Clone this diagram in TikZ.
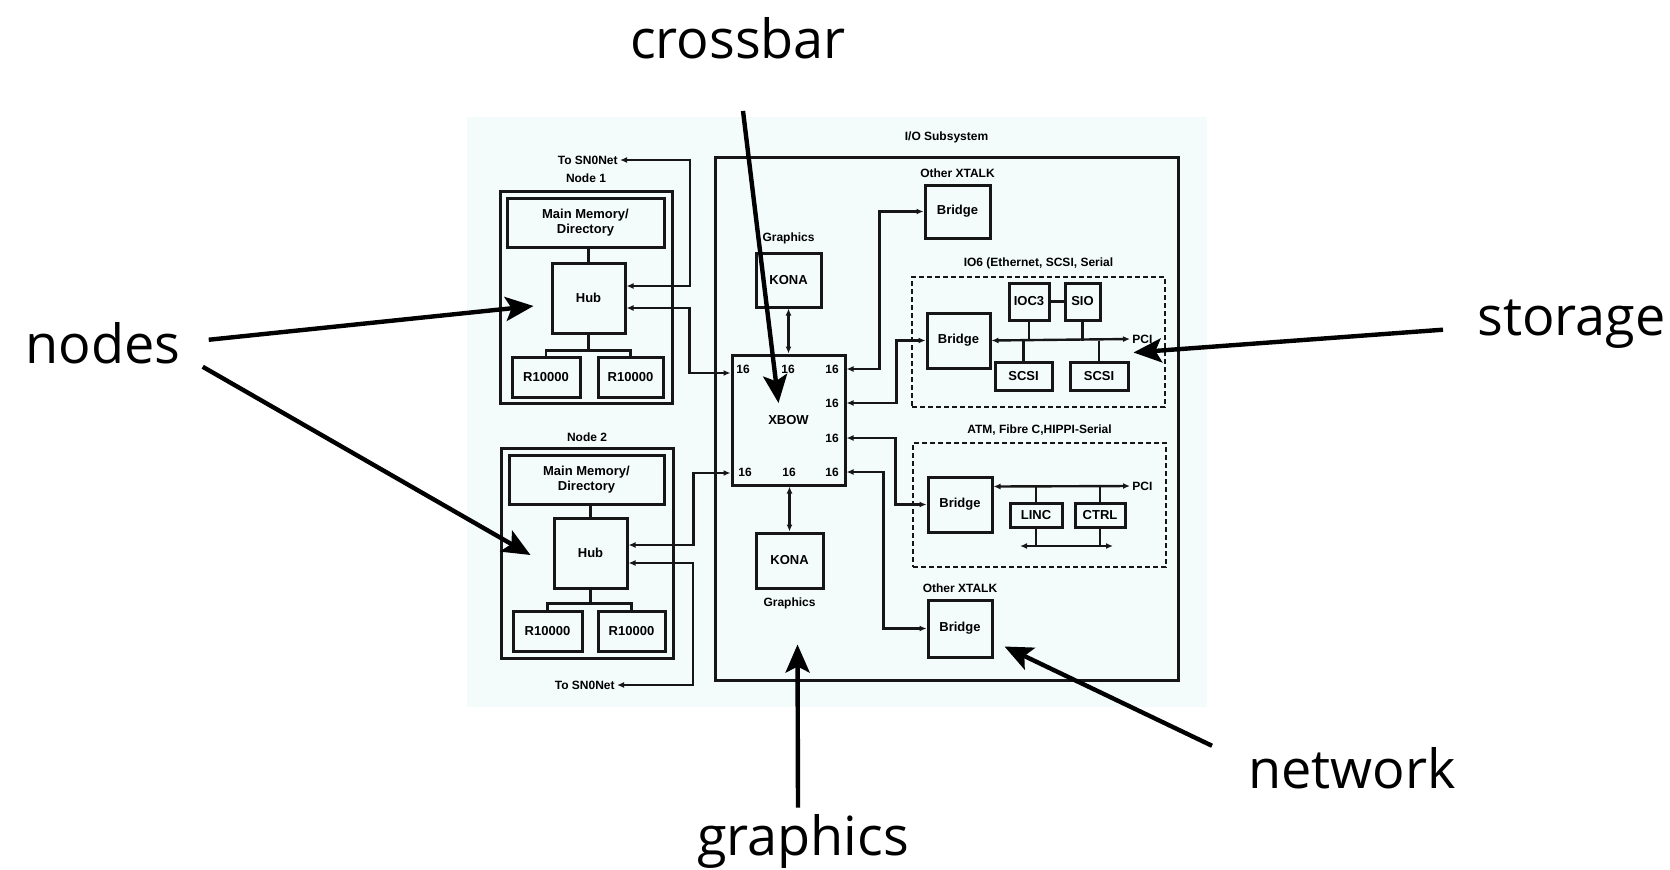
\documentclass[tikz,border=0pt]{standalone}
\usepackage{fontspec}
\setmainfont{Liberation Sans}
\newfontfamily\calloutfont{Open Sans}
\usetikzlibrary{arrows.meta,positioning}
\definecolor{scanbg}{HTML}{F3FCFB}
\definecolor{ink}{HTML}{161616}

\tikzset{
  unit/.style={draw=ink,line width=1.5pt,inner sep=0pt,align=center,
    font=\fontsize{6.5}{7.5}\selectfont\bfseries},
  frame/.style={draw=ink,line width=1.5pt,inner sep=0pt},
  subsys/.style={draw=ink,line width=1.1pt,dash pattern=on 2.5pt off 1.5pt,inner sep=0pt},
  tag/.style={inner sep=1pt,font=\fontsize{6}{7}\selectfont\bfseries},
  wire/.style={ink,line width=1.2pt,>={Latex[length=3.5pt,width=3pt]}},
  callout/.style={line width=2.2pt,-{Stealth[length=14pt,width=12pt,inset=3pt]}},
  calltext/.style={inner sep=0pt,font=\calloutfont\fontsize{27}{30}\selectfont}
}

\begin{document}
\begin{tikzpicture}[x=0.5pt,y=-0.5pt]
\useasboundingbox (0,0) rectangle (1670,869);
\fill[scanbg] (467,117) rectangle (1207,707);

% node 1
\node (node1) at (586,297) [frame,minimum width=86pt,minimum height=106pt] {};
\node (node1lbl) [tag,above=2pt of node1] {Node 1};
\node (mem1) at (585.5,222.5) [unit,minimum width=78.5pt,minimum height=24.5pt] {Main Memory/\\Directory};
\node (hub1) at (588.5,298) [unit,minimum width=36.5pt,minimum height=35pt] {Hub};
\node (r1a) at (546,377) [unit,minimum width=34pt,minimum height=20pt] {R10000};
\node (r1b) at (630.5,377) [unit,minimum width=32.5pt,minimum height=20pt] {R10000};
\node (sn1) at (620,160) [tag,anchor=east] {To SN0Net};

% node 2
\node (node2) at (587,553) [frame,minimum width=86pt,minimum height=105pt] {};
\node (node2lbl) [tag,above=1pt of node2] {Node 2};
\node (mem2) at (586.5,479.5) [unit,minimum width=77.5pt,minimum height=24.5pt] {Main Memory/\\Directory};
\node (hub2) at (590.5,553) [unit,minimum width=36.5pt,minimum height=35pt] {Hub};
\node (r2a) at (547.5,631) [unit,minimum width=34.5pt,minimum height=20pt] {R10000};
\node (r2b) at (631.5,631) [unit,minimum width=33.5pt,minimum height=20pt] {R10000};
\node (sn2) at (617,685) [tag,anchor=east] {To SN0Net};

% I/O subsystem
\node (io) at (946.5,418.5) [frame,minimum width=231.5pt,minimum height=261.5pt] {};
\node (iolbl) [tag,above=5pt of io] {I/O Subsystem};
\node (konaT) at (788.5,280) [unit,minimum width=32.5pt,minimum height=27pt] {KONA};
\node (konaTlbl) [tag,above=2.5pt of konaT] {Graphics};
\node (xbow) at (788.5,420) [unit,minimum width=56.5pt,minimum height=65pt] {XBOW};
\node (konaB) at (789.5,560.5) [unit,minimum width=33.5pt,minimum height=27.5pt] {KONA};
\node (konaBlbl) [tag,below=3pt of konaB] {Graphics};
\node (p1) at (743,369) [tag] {16};
\node (p2) at (788,369) [tag] {16};
\node (p3) at (832,369) [tag] {16};
\node (p4) at (832,403) [tag] {16};
\node (p5) at (832,438) [tag] {16};
\node (p6) at (745,472) [tag] {16};
\node (p7) at (789,472) [tag] {16};
\node (p8) at (832,472) [tag] {16};

\node (brT) at (957.5,211.5) [unit,minimum width=32.5pt,minimum height=26.5pt] {Bridge};
\node (brTlbl) [tag,above=1.5pt of brT] {Other XTALK};

\node (io6) at (1038.5,342) [subsys,minimum width=126.5pt,minimum height=65pt] {};
\node (io6lbl) [tag,above=2.5pt of io6] {IO6 (Ethernet, SCSI, Serial};
\node (brIO) at (958.5,340.5) [unit,minimum width=31.5pt,minimum height=27.5pt] {Bridge};
\node (ioc3) at (1029,301.5) [unit,minimum width=20pt,minimum height=18.5pt] {IOC3};
\node (sio) at (1082.5,301.5) [unit,minimum width=17.5pt,minimum height=18.5pt] {SIO};
\node (scsiA) at (1023.5,376) [unit,minimum width=28.5pt,minimum height=14pt] {SCSI};
\node (scsiB) at (1099,376) [unit,minimum width=29pt,minimum height=14pt] {SCSI};
\node (pci1) at (1130,339) [tag,anchor=west] {PCI};

\node (atm) at (1039.5,505) [subsys,minimum width=126.5pt,minimum height=62pt] {};
\node (atmlbl) [tag,above=2pt of atm] {ATM, Fibre C,HIPPI-Serial};
\node (brATM) at (960,504.5) [unit,minimum width=32pt,minimum height=27.5pt] {Bridge};
\node (linc) at (1036,515) [unit,minimum width=26pt,minimum height=12pt] {LINC};
\node (ctrl) at (1100,515) [unit,minimum width=25pt,minimum height=12pt] {CTRL};
\node (pci2) at (1130,486) [tag,anchor=west] {PCI};
\coordinate (lb1) at (1020,546);
\coordinate (lb2) at (1113,546);

\node (brB) at (960,628.5) [unit,minimum width=32pt,minimum height=28.5pt] {Bridge};
\node (brBlbl) [tag,above=1.5pt of brB] {Other XTALK};

% node wiring
\draw[wire] (hub1.north |- mem1.south) -- (hub1.north);
\draw[wire] (hub1.south) -- ++(0,-8pt) coordinate (j1);
\draw[wire] (r1a.north) |- (j1) -| (r1b.north);
\draw[wire,<->] ([yshift=6pt]hub1.east) -| ([xshift=35pt]sn1.east) -- (sn1.east);
\draw[wire,<->] ([yshift=-5pt]hub1.east) -- ++(31.5pt,0) |- ([yshift=23.5pt]xbow.west);
\draw[wire] (hub2.north |- mem2.south) -- (hub2.north);
\draw[wire] (hub2.south) -- ++(0,-7pt) coordinate (j2);
\draw[wire] (r2a.north) |- (j2) -| (r2b.north);
\draw[wire,<->] ([yshift=4pt]hub2.east) -- ++(32.5pt,0) |- ([yshift=-26.5pt]xbow.west);
\draw[wire,<->] ([yshift=-5pt]hub2.east) -| ([xshift=38pt]sn2.east) -- (sn2.east);

% crossbar wiring
\draw[wire,<->] (konaT.south) -- (xbow.north -| konaT.south);
\draw[wire,<->] (xbow.south -| konaB.north) -- (konaB.north);
\draw[wire,<->] ([yshift=25.5pt]xbow.east) -- ++(16.5pt,0) |- (brT.west);
\draw[wire,<->] ([yshift=8.5pt]xbow.east) -- ++(25pt,0) |- (brIO.west);
\draw[wire,<->] ([yshift=-9pt]xbow.east) -- ++(24.5pt,0) |- (brATM.west);
\draw[wire,<->] ([yshift=-26pt]xbow.east) -- ++(18.5pt,0) |- (brB.west);

% IO6 bus
\draw[wire] (ioc3) -- (sio);
\draw[wire,<->] (brIO.east) -- (pci1.west);
\draw[wire] (ioc3.south) -- (ioc3.south |- brIO.east);
\draw[wire] (sio.south) -- (sio.south |- brIO.east);
\draw[wire] (scsiA.north) -- (scsiA.north |- brIO.east);
\draw[wire] (scsiB.north) -- (scsiB.north |- brIO.east);

% ATM bus
\draw[wire,<->] ([yshift=9pt]brATM.east) -- (pci2.west);
\draw[wire] (linc.north) -- (linc.north |- pci2.west);
\draw[wire] (ctrl.north) -- (ctrl.north |- pci2.west);
\draw[wire,<->] (lb1) -- (lb2);
\draw[wire] (linc.south) -- (linc.south |- lb1);
\draw[wire] (ctrl.south) -- (ctrl.south |- lb1);

% callouts
\node (lcross) at (738,58) [calltext,anchor=base] {crossbar};
\node (lnodes) at (25,363) [calltext,anchor=base west] {nodes};
\node (lstore) at (1477,335) [calltext,anchor=base west] {storage};
\node (lnet) at (1248,788) [calltext,anchor=base west] {network};
\node (lgraph) at (803,855) [calltext,anchor=base] {graphics};
\draw[callout] ([xshift=2.5pt,yshift=-26pt]lcross.south) -- ([xshift=-5pt,yshift=8.5pt]xbow.center);
\draw[callout] ([xshift=14pt,yshift=1.5pt]lnodes.east) -- ([xshift=-8.5pt,yshift=-4pt]hub1.west);
\draw[callout] ([xshift=11pt,yshift=-12pt]lnodes.east) -- ([xshift=-11pt,yshift=-1pt]hub2.west);
\draw[callout] ([xshift=-17pt,yshift=-3pt]lstore.west) -- ([xshift=2pt,yshift=4pt]scsiB.north east);
\draw[callout] ([xshift=-18pt,yshift=11pt]lnet.west) -- ([xshift=5.5pt,yshift=-9pt]brB.east);
\draw[callout] ([xshift=-2.5pt,yshift=3pt]lgraph.north) -- ([xshift=4pt,yshift=-27.5pt]konaB.south);
\end{tikzpicture}
\end{document}
